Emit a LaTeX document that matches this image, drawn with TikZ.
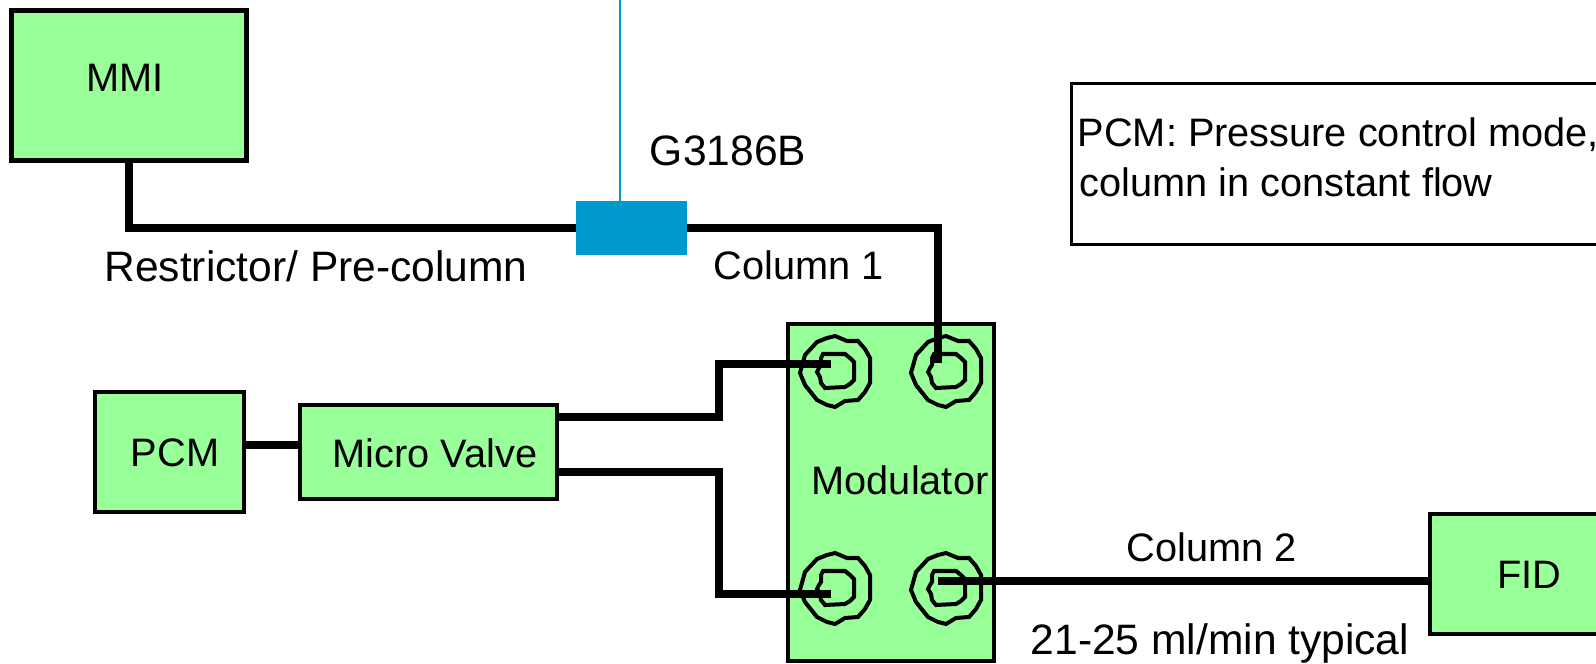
\documentclass[tikz,border=0pt]{standalone}
\usepackage{fontspec}
\setmainfont{Liberation Sans}
\definecolor{boxgreen}{HTML}{99FF99}
\definecolor{splitblue}{HTML}{0099CC}
\tikzset{
  greenbox/.style={draw,fill=boxgreen,line width=0.45mm,outer sep=0pt,inner sep=0pt},
  tube/.style={line width=0.85mm},
  ring/.style={line width=0.4mm},
  txt/.style={font=\fontsize{11.3}{14}\selectfont,inner sep=0pt},
  bigtxt/.style={font=\fontsize{12.1}{14}\selectfont,inner sep=0pt},
  port/.pic={
    \draw[ring] plot coordinates {(-18,-29) (-8,-33) (0,-35) (12,-30) (23,-30) (30,-22) (35,-13) (35,12) (30,21) (23,29) (10,30) (0,36) (-8,34) (-18,29) (-30,14) (-35,2) (-30,-16)} -- cycle;
    \draw[ring] plot coordinates {(-12,-17) (10,-17) (15,-13) (19,-9) (19,9) (15,13) (10,16) (-10,17) (-14,12) (-15,6) (-18,1) (-16,-3) (-14,-6) (-14,-13)} -- cycle;
  }
}
\begin{document}
\begin{tikzpicture}[x=0.01cm,y=-0.01cm]
\useasboundingbox (0,0) rectangle (1596,664);
% boxes
\node[greenbox,line width=0.5mm,minimum width=2.35cm,minimum height=1.5cm] (mmi) at (129,85.5) {};
\node[greenbox,minimum width=1.49cm,minimum height=1.2cm] (pcm) at (169.5,452) {};
\node[greenbox,minimum width=2.57cm,minimum height=0.94cm] (valve) at (428.5,452) {};
\node[greenbox,minimum width=2.06cm,minimum height=3.37cm] (modulator) at (891,492.5) {};
\node[greenbox,minimum width=2.1cm,minimum height=1.2cm] (fid) at (1535,574) {};
\node[draw,line width=0.3mm,minimum width=5.8cm,minimum height=1.6cm,outer sep=0pt] (note) at (1362,164) {};
\node[fill=splitblue,minimum width=1.11cm,minimum height=0.54cm,inner sep=0pt,outer sep=0pt] (splitter) at (631.5,228) {};
% ports
\pic at (835,371) {port};
\pic at (946,371) {port};
\pic at (835,588) {port};
\pic at (946,588) {port};
\coordinate (portTL) at (831,364);
\coordinate (portTR) at (938,363);
\coordinate (portBL) at (831,594);
\coordinate (portBR) at (938,581);
\coordinate (valveup) at (556,417);
\coordinate (valvedown) at (556,472);
\coordinate (feed) at (270,445);
\coordinate (top) at (620,0);
% connectors
\draw[tube] (mmi.south) |- (splitter.west);
\draw[tube] (splitter.east) -| (portTR);
\draw[tube] (pcm.east |- feed) -- (valve.west |- feed);
\draw[tube] (valveup) -- ++(163,0) |- (portTL);
\draw[tube] (valvedown) -- ++(163,0) |- (portBL);
\draw[tube] (portBR) -- (fid.west |- portBR);
\draw[splitblue,line width=0.27mm] (top) -- (top |- splitter.north);
% labels
\node[txt] (mmitext) at (125,78) {MMI};
\node[txt] (pcmtext) at (175,453) {PCM};
\node[txt] (valvetext) at (435,453) {Micro Valve};
\node[txt] (modulatortext) at (900,480) {Modulator};
\node[txt] (fidtext) at (1529,575) {FID};
\node[bigtxt] (restrictortext) at (316,266) {Restrictor/ Pre-column};
\node[txt] (column1text) at (799,265) {Column 1};
\node[bigtxt] (moduletext) at (728,151) {G3186B};
\node[txt] (column2text) at (1212,547) {Column 2};
\node[bigtxt] (flowtext) at (1220,643) {21-25 ml/min typical};
\node[txt,anchor=west] (notetext1) at (1077,135) {PCM: Pressure control mode,};
\node[txt,anchor=west] (notetext2) at (1079,182) {column in constant flow};
\end{tikzpicture}
\end{document}
